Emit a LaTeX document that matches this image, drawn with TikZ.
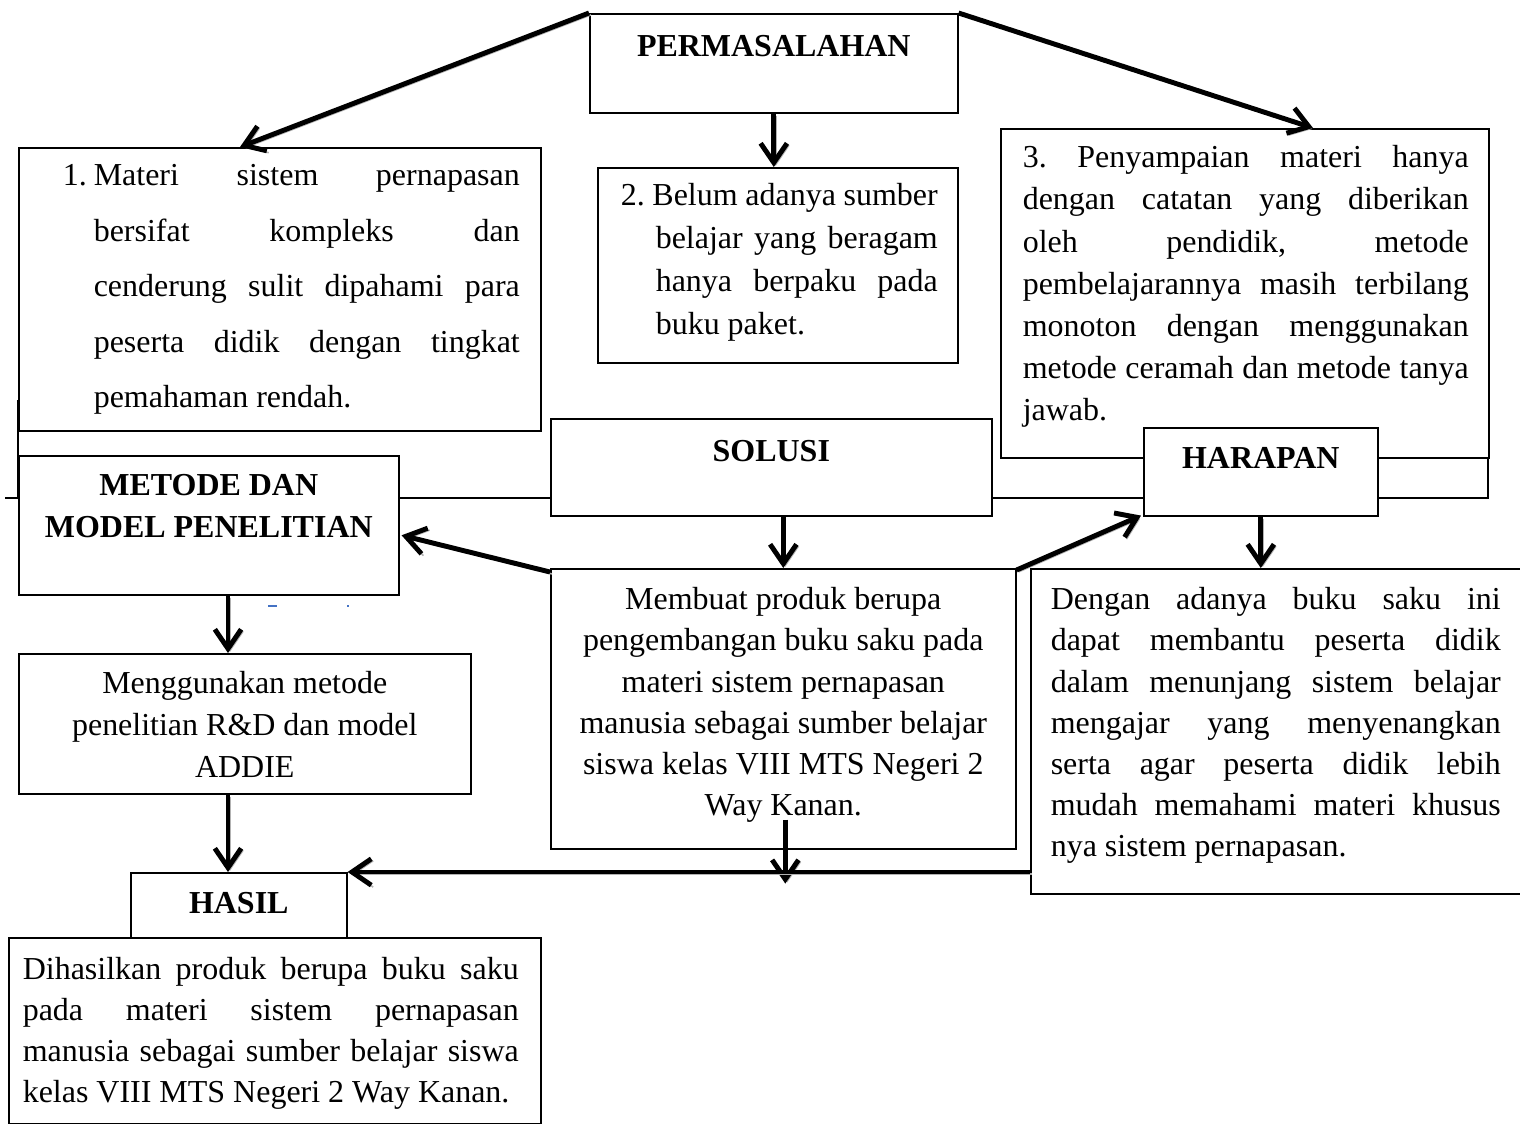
\documentclass[tikz,border=0pt]{standalone}
\usepackage{fontspec}
\setmainfont{Liberation Serif}
\usetikzlibrary{arrows.meta,calc}

\newdimen\pxu
\pxu=0.02cm
\definecolor{birukata}{RGB}{68,114,196}
\hbadness=10000
\frenchspacing
% lebar, tepi kiri, tepi kanan, jarak baris, teks
\newcommand{\isi}[5]{\begin{minipage}[t]{#1\pxu}\leftskip=#2\pxu\rightskip=#3\pxu\baselineskip=#4\pxu\parfillskip=0pt plus 1fil\tolerance=10000\relax #5\end{minipage}}
\newcommand{\tengah}[3]{\begin{minipage}[t]{#1\pxu}\centering\baselineskip=#2\pxu\relax #3\end{minipage}}

\begin{document}
\begin{tikzpicture}[x=0.02cm, y=-0.02cm, line width=0.9pt,
	>={Straight Barb[length=11pt,width=15pt]},
	every node/.style={font=\fontsize{18.2}{22}\selectfont},
	panah/.style={->, line width=2.8pt, preaction={draw=black!30, transform canvas={shift={(1.1pt,-1.1pt)}}}}]
	\tikzstyle{kotak}=[draw=black, fill=white, inner sep=0pt, anchor=north west]
	\tikzstyle{judul}=[kotak, font=\fontsize{18.2}{22}\selectfont\bfseries]
	\useasboundingbox (0,0) rectangle (1520,1124);

	% garis latar
	\draw (5,498) -- (1488,498) -- (1488,440);
	\draw (18,400) -- (18,498);

	\node[judul, minimum width=368\pxu, text height=43\pxu, text depth=56\pxu] (masalah) at (589,13) {PERMASALAHAN};
	\node[kotak, text height=38\pxu, text depth=245\pxu] (m1) at (18,147)
		{\isi{522}{44}{21}{55.5}{\hangindent=31\pxu\hangafter=1 \makebox[31\pxu][l]{1.}Materi sistem pernapasan\linebreak bersifat kompleks dan\linebreak cenderung sulit dipahami para\linebreak peserta didik dengan tingkat\linebreak pemahaman rendah.}};
	\node[kotak, text height=38\pxu, text depth=157\pxu] (m2) at (597,167)
		{\isi{360}{23}{20}{43}{\hangindent=35\pxu\hangafter=1 2. Belum adanya sumber\linebreak belajar yang beragam\linebreak hanya berpaku pada\linebreak buku paket.}};
	\node[kotak, text height=39\pxu, text depth=290\pxu] (m3) at (1000,128)
		{\isi{488}{22}{20}{42.2}{3. Penyampaian materi hanya\linebreak dengan catatan yang diberikan\linebreak oleh pendidik, metode\linebreak pembelajarannya masih terbilang\linebreak monoton dengan menggunakan\linebreak metode ceramah dan metode tanya\linebreak jawab.}};

	\node[judul, minimum width=441\pxu, text height=43\pxu, text depth=54\pxu] (solusi) at (550,418) {SOLUSI};
	\node[judul, minimum width=234\pxu, text height=41\pxu, text depth=47\pxu] (harapan) at (1143,427) {HARAPAN};
	\node[judul, text height=40\pxu, text depth=99\pxu] (metode) at (18,455)
		{\tengah{380}{42}{METODE DAN\\ MODEL PENELITIAN}};

	\node[kotak, text height=40\pxu, text depth=100\pxu] (addie) at (18,653)
		{\tengah{452}{42}{Menggunakan metode\\ penelitian R\&D dan model\\ ADDIE}};
	\node[kotak, text height=41\pxu, text depth=239\pxu] (produk) at (550,568)
		{\tengah{465}{41.2}{Membuat produk berupa\\ pengembangan buku saku pada\\ materi sistem pernapasan\\ manusia sebagai sumber belajar\\ siswa kelas VIII MTS Negeri 2\\ Way Kanan.}};
	\node[kotak, text height=41\pxu, text depth=284\pxu] (dengan) at (1030,568)
		{\isi{492}{20}{22}{41.2}{Dengan adanya buku saku ini\linebreak dapat membantu peserta didik\linebreak dalam menunjang sistem belajar\linebreak mengajar yang menyenangkan\linebreak serta agar peserta didik lebih\linebreak mudah memahami materi khusus\linebreak nya sistem pernapasan.}};

	\node[judul, minimum width=216\pxu, text height=41\pxu, text depth=24\pxu] (hasil) at (130,872) {HASIL};
	\node[kotak, text height=42\pxu, text depth=144\pxu] (akhir) at (8,937)
		{\isi{532}{14}{22}{41}{Dihasilkan produk berupa buku saku\linebreak pada materi sistem pernapasan\linebreak manusia sebagai sumber belajar siswa\linebreak kelas VIII MTS Negeri 2 Way Kanan.}};

	% bekas teks biru
	\draw[birukata, line width=1.2pt] (268,606) -- (277,606);
	\draw[birukata, line width=1.2pt] (347,606) -- (349,606);

	\coordinate (kiri) at ($(metode.south west)+(210,0)$);
	\coordinate (bawah) at ($(produk.south)+(2,-30)$);

	\draw[panah] (masalah.north west) -- ($(m1.north west)+(222,0)$);
	\draw[panah] (masalah.north east) -- ($(m3.north west)+(313,0)$);
	\draw[panah] (masalah.south) -- (masalah.south |- m2.north);
	\draw[panah] (produk.north |- solusi.south) -- (produk.north);
	\draw[panah] ($(produk.north west)+(0,4)$) -- ($(metode.east)+(2,10)$);
	\draw[panah] ($(produk.north east)+(0,2)$) -- ($(harapan.south west)+(-2,-1)$);
	\draw[panah] (harapan.south) -- (harapan.south |- dengan.north);
	\draw[panah] (kiri) -- (kiri |- addie.north);
	\draw[panah] (kiri |- addie.south) -- (kiri |- hasil.north);
	\draw[panah] (bawah) -- ++(0,64);
	\draw[panah] (dengan.west |- hasil.north) -- (hasil.north east);
\end{tikzpicture}
\end{document}
